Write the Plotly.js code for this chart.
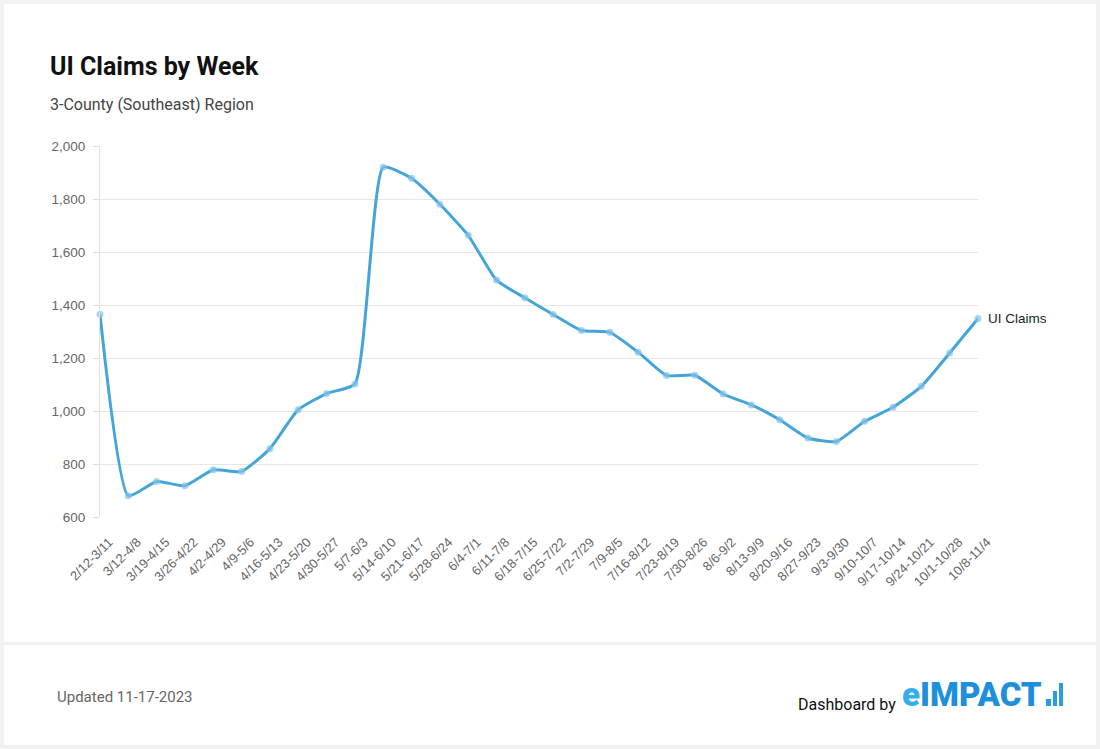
<!DOCTYPE html>
<html>
<head>
<meta charset="utf-8">
<script src="https://cdn.plot.ly/plotly-3.0.1.min.js"></script>
<style>
  html, body { margin: 0; padding: 0; background: #f2f2f2; }
  #chart { width: 1100px; height: 749px; }
</style>
</head>
<body>
<div id="chart"></div>
<script>
const weeks = ["2/12-3/11","3/12-4/8","3/19-4/15","3/26-4/22","4/2-4/29","4/9-5/6","4/16-5/13","4/23-5/20","4/30-5/27","5/7-6/3","5/14-6/10","5/21-6/17","5/28-6/24","6/4-7/1","6/11-7/8","6/18-7/15","6/25-7/22","7/2-7/29","7/9-8/5","7/16-8/12","7/23-8/19","7/30-8/26","8/6-9/2","8/13-9/9","8/20-9/16","8/27-9/23","9/3-9/30","9/10-10/7","9/17-10/14","9/24-10/21","10/1-10/28","10/8-11/4"];
const claims = [1365, 680, 734, 718, 778, 772, 858, 1005, 1066, 1102, 1920, 1878, 1780, 1663, 1494, 1427, 1364, 1304, 1297, 1222, 1134, 1135, 1064, 1023, 967, 898, 885, 961, 1014, 1093, 1219, 1349];
const seriesName = "UI Claims";
const yTicks = [600, 800, 1000, 1200, 1400, 1600, 1800, 2000];
const yTickText = ["600", "800", "1,000", "1,200", "1,400", "1,600", "1,800", "2,000"];

const W = 1100, H = 749;
const L = 100, R = 978, T = 146, B = 517;
const px = x => (x - L) / (R - L);
const py = y => (B - y) / (B - T);

const trace = {
  x: weeks,
  y: claims,
  type: 'scatter',
  mode: 'lines+markers',
  name: seriesName,
  line: { color: '#45a5d8', width: 3, shape: 'spline', smoothing: 0.5 },
  marker: { color: 'rgba(130,195,235,0.7)', size: 7 },
  cliponaxis: false,
  hoverinfo: 'x+y'
};

const font = 'Roboto, "Liberation Sans", Arial, sans-serif';
const helv = '"Liberation Sans", Arial, Helvetica, sans-serif';

const shapes = [
  { type: 'rect', xref: 'paper', yref: 'paper', layer: 'below',
    x0: px(4), x1: px(1096), y0: py(4), y1: py(642),
    fillcolor: '#ffffff', line: { width: 0 } },
  { type: 'rect', xref: 'paper', yref: 'paper', layer: 'below',
    x0: px(4), x1: px(1096), y0: py(645), y1: py(745),
    fillcolor: '#ffffff', line: { width: 0 } },
  // logo bars
  { type: 'rect', xref: 'paper', yref: 'paper',
    x0: px(1046), x1: px(1051), y0: py(699), y1: py(706),
    fillcolor: '#2a9de2', line: { width: 0 } },
  { type: 'rect', xref: 'paper', yref: 'paper',
    x0: px(1053), x1: px(1057), y0: py(691), y1: py(706),
    fillcolor: '#2a9de2', line: { width: 0 } },
  { type: 'rect', xref: 'paper', yref: 'paper',
    x0: px(1059), x1: px(1063), y0: py(683), y1: py(706),
    fillcolor: '#2a9de2', line: { width: 0 } }
];

const annotations = [
  { text: '<b>UI Claims by Week</b>', xref: 'paper', yref: 'paper',
    x: px(48), y: py(66), xanchor: 'left', yanchor: 'middle', showarrow: false,
    font: { family: font, size: 25, color: '#111111' } },
  { text: '3-County (Southeast) Region', xref: 'paper', yref: 'paper',
    x: px(48), y: py(104), xanchor: 'left', yanchor: 'middle', showarrow: false,
    font: { family: font, size: 16, color: '#444444' } },
  { text: seriesName, xref: 'x', yref: 'y',
    x: weeks[weeks.length - 1], y: claims[claims.length - 1],
    xanchor: 'left', yanchor: 'middle', xshift: 8, showarrow: false,
    font: { family: helv, size: 13.5, color: '#222222' } },
  { text: 'Updated 11-17-2023', xref: 'paper', yref: 'paper',
    x: px(55), y: py(697), xanchor: 'left', yanchor: 'middle', showarrow: false,
    font: { family: font, size: 15, color: '#666666' } },
  { text: 'Dashboard by', xref: 'paper', yref: 'paper',
    x: px(796), y: py(704), xanchor: 'left', yanchor: 'middle', showarrow: false,
    font: { family: font, size: 16, color: '#111111' } },
  { text: '<span style="color:#33aef0">e</span>IMPACT', xref: 'paper', yref: 'paper',
    x: px(1044), y: py(694), xanchor: 'right', yanchor: 'middle', showarrow: false,
    font: { family: font, size: 33, weight: 900, color: '#1e8fdc' } }
];

const layout = {
  width: W, height: H,
  margin: { l: L, r: W - R, t: T, b: H - B, pad: 0 },
  paper_bgcolor: '#f2f2f2',
  plot_bgcolor: 'rgba(0,0,0,0)',
  showlegend: false,
  xaxis: {
    type: 'category',
    range: [0, weeks.length - 1],
    tickangle: -45,
    showgrid: false,
    showline: false,
    ticks: '',
    zeroline: false,
    ticklabelstandoff: 14,
    ticklabelshift: 9,
    tickfont: { family: helv, size: 13, color: '#666666' },
    fixedrange: true
  },
  yaxis: {
    range: [600, 2000],
    tickvals: yTicks,
    ticktext: yTickText,
    showgrid: true,
    gridcolor: '#e6e6e6',
    gridwidth: 1,
    showline: true,
    linecolor: '#e0e0e0',
    linewidth: 1,
    ticks: 'outside',
    ticklen: 6,
    tickcolor: '#dddddd',
    zeroline: false,
    ticklabelstandoff: 5,
    tickfont: { family: helv, size: 13.5, color: '#666666' },
    fixedrange: true
  },
  shapes: shapes,
  annotations: annotations
};

Plotly.newPlot('chart', [trace], layout, { displayModeBar: false, staticPlot: true });
</script>
</body>
</html>
